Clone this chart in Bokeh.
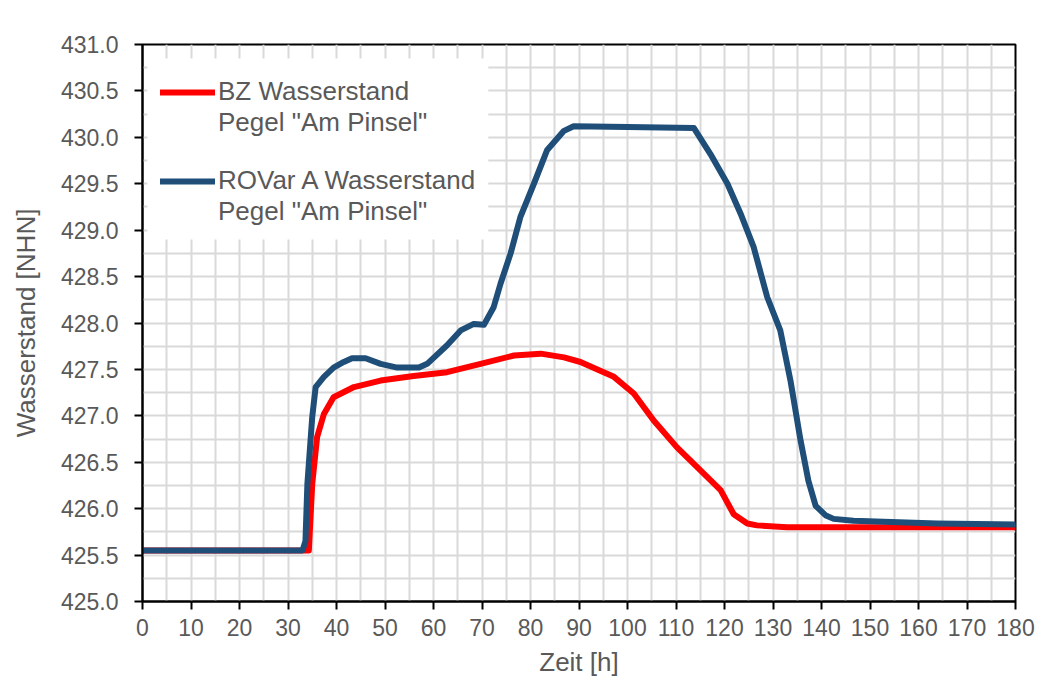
from bokeh.plotting import figure
from bokeh.models import FixedTicker, Legend, LegendItem, Range1d, CustomJSTickFormatter, BoxAnnotation
from bokeh.embed import file_html
from bokeh.resources import INLINE

# --- data ---
t_bz = [0, 34.3, 35.0, 36.0, 37.4, 39.4, 43.6, 49.1, 55.9, 62.8, 69.7, 76.6, 82.1, 86.9,
        90.3, 93.8, 97.2, 101.3, 105.4, 110.2, 115.1, 119.2, 121.9, 124.7, 126.7, 132.9, 180]
h_bz = [425.55, 425.55, 426.27, 426.77, 427.02, 427.20, 427.31, 427.38, 427.43, 427.47, 427.56,
        427.65, 427.67, 427.63, 427.58, 427.50, 427.42, 427.24, 426.95, 426.66, 426.41, 426.20,
        425.94, 425.84, 425.82, 425.80, 425.80]

t_rov = [0, 33.0, 33.6, 34.0, 35.0, 35.7, 37.4, 39.4, 41.5, 43.2, 46.0, 49.1, 52.5, 57.0, 58.7,
         62.8, 65.6, 68.3, 70.4, 72.4, 73.8, 75.9, 77.9, 80.7, 83.4, 86.9, 88.9, 100, 113.7,
         117.1, 120.6, 123.3, 126.0, 128.8, 131.5, 133.6, 135.7, 137.3, 138.8, 140.8, 142.5,
         146.6, 163.8, 180]
h_rov = [425.55, 425.55, 425.65, 426.27, 426.99, 427.31, 427.42, 427.52, 427.58, 427.62, 427.62,
         427.56, 427.52, 427.52, 427.56, 427.76, 427.92, 427.99, 427.98, 428.17, 428.42, 428.75,
         429.14, 429.50, 429.86, 430.07, 430.12, 430.11, 430.10, 429.82, 429.50, 429.18, 428.82,
         428.28, 427.92, 427.38, 426.73, 426.30, 426.03, 425.93, 425.89, 425.87, 425.84, 425.83]

label_bz = ["BZ Wasserstand", 'Pegel "Am Pinsel"']
label_rov = ["ROVar A Wasserstand", 'Pegel "Am Pinsel"']
x_ticks = list(range(0, 181, 10))
y_ticks = [425.0 + 0.5 * i for i in range(13)]

FONT = "Liberation Sans"
GREY = "#595959"

p = figure(width=1040, height=680, output_backend="svg", toolbar_location=None,
           x_range=Range1d(0, 180), y_range=Range1d(425, 431),
           min_border_left=142, min_border_right=25, min_border_top=44, min_border_bottom=79)
p.border_fill_color = "white"
p.outline_line_color = "black"
p.outline_line_width = 2

# grids
p.xgrid.ticker = FixedTicker(ticks=list(range(0, 181, 5)))
p.ygrid.ticker = FixedTicker(ticks=[425.0 + 0.25 * i for i in range(25)])
for g in (p.xgrid, p.ygrid):
    g.grid_line_color = "#d9d9d9"
    g.grid_line_width = 2

# axes
p.xaxis.ticker = FixedTicker(ticks=x_ticks)
p.yaxis.ticker = FixedTicker(ticks=y_ticks)
p.yaxis.formatter = CustomJSTickFormatter(code="return tick.toFixed(1);")
for ax in (p.xaxis, p.yaxis):
    ax.axis_line_color = "black"
    ax.axis_line_width = 2
    ax.major_tick_line_color = "black"
    ax.major_tick_line_width = 2
    ax.major_tick_out = 8
    ax.major_tick_in = 0
    ax.minor_tick_line_color = None
    ax.major_label_text_font = FONT
    ax.major_label_text_font_size = "23px"
    ax.major_label_text_color = GREY
    ax.axis_label_text_font = FONT
    ax.axis_label_text_font_size = "26px"
    ax.axis_label_text_font_style = "normal"
    ax.axis_label_text_color = GREY
p.xaxis.axis_label = "Zeit [h]"
p.yaxis.axis_label = "Wasserstand [NHN]"
p.xaxis.major_label_standoff = 9
p.yaxis.major_label_standoff = 16
p.xaxis.axis_label_standoff = 8
p.yaxis.axis_label_standoff = 17

r1 = p.line(t_bz, h_bz, line_color="#ff0000", line_width=6, line_join="round", line_cap="round")
r2 = p.line(t_rov, h_rov, line_color="#1f4e79", line_width=6, line_join="round", line_cap="round")

# white background area of the legend (covers the grid like the original)
p.add_layout(BoxAnnotation(left=1.0, right=71.3, top=430.85, bottom=428.9,
                           fill_color="white", fill_alpha=1, line_color=None))


def make_legend(lines, renderer, loc):
    lg = Legend(items=[LegendItem(label=lines[0], renderers=[renderer]),
                       LegendItem(label=lines[1], renderers=[])],
                location=loc)
    lg.border_line_color = None
    lg.background_fill_color = "white"
    lg.background_fill_alpha = 1
    lg.label_text_font = FONT
    lg.label_text_font_size = "26px"
    lg.label_text_color = GREY
    lg.glyph_width = 55
    lg.glyph_height = 20
    lg.label_height = 20
    lg.spacing = -2
    lg.padding = 0
    lg.margin = 0
    lg.label_standoff = 3
    return lg


p.add_layout(make_legend(label_bz, r1, (18, 463)))
p.add_layout(make_legend(label_rov, r2, (18, 374)))

open("out.html", "w").write(file_html(p, INLINE))
